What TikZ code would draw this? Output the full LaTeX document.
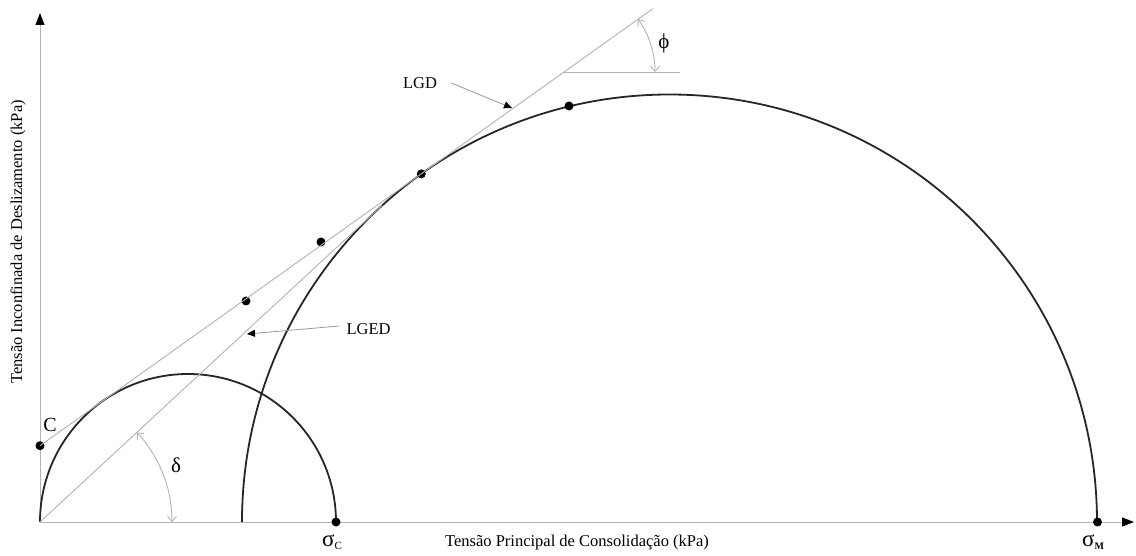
\documentclass[tikz,border=0pt]{standalone}
\usepackage{fontspec}
\setmainfont{Liberation Serif}
\usetikzlibrary{arrows.meta}
\begin{document}
\begin{tikzpicture}[x=1pt,y=1pt,
  axisline/.style={draw=black!30,line width=1pt,-{Triangle[length=12pt,width=9pt,fill=black,color=black]}},
  guide/.style={draw=black!30,line width=0.9pt},
  circ/.style={draw=black!85,line width=1.8pt},
  anglearc/.style={draw=black!30,line width=0.9pt,{Straight Barb[length=5pt,width=9pt]}-{Straight Barb[length=5pt,width=9pt]}},
  pointer/.style={draw=black!40,line width=0.8pt,-{Triangle[length=8pt,width=7pt,fill=black,color=black]}},
  dot/.style={circle,fill=black,inner sep=0pt,minimum size=9pt},
  lbl/.style={font=\fontsize{16.5}{16.5}\selectfont,inner sep=0pt},
  greek/.style={font=\fontsize{21}{21}\selectfont,inner sep=0pt}]
\useasboundingbox (-40,-33) rectangle (1096,522);
% key coordinates
\coordinate (O) at (0,0);
\coordinate (ytop) at (0,509);
\coordinate (xend) at (1094,0);
\coordinate (lgdtop) at (613,513.4);
\coordinate (lgedtop) at (342,316.5);
\coordinate (phic) at (524,450);
\coordinate (phiend) at (640,450);
% axes
\draw[axisline] (O) -- (ytop);
\draw[axisline] (O) -- (xend);
% circles
\draw[circ] (O) arc[start angle=180,end angle=0,radius=148];
\draw[circ] (202,0) arc[start angle=180,end angle=0,radius=427.5];
% dots
\node[dot] (C) at (0,76.3) {};
\node[dot] (p1) at (206,221) {};
\node[dot] (p2) at (281,280) {};
\node[dot] (p3) at (381.3,348.1) {};
\node[dot] (p4) at (529,416) {};
\node[dot] (sC) at (296,0) {};
\node[dot] (sM) at (1057.5,0) {};
% envelope lines
\draw[guide] (C.center) -- (lgdtop);
\draw[guide] (O) -- (lgedtop);
\draw[guide] (phic) -- (phiend);
% angle arcs
\draw[anglearc] (132,0) arc[start angle=0,end angle=42.78,radius=132];
\draw[anglearc] ([shift={(91,0)}]phic) arc[start angle=0,end angle=35.49,radius=91];
% labels
\node[greek] (delta) at (136,57) {δ};
\node[greek] (phi) at (624,479) {ϕ};
\node[font=\fontsize{20}{20}\selectfont,inner sep=0pt] (Clbl) at (10,97) {C};
\node[inner sep=0pt,anchor=west] (sClbl) at (282,-20) {\fontsize{23}{23}\selectfont σ\raisebox{-3pt}{\fontsize{11}{11}\selectfont C}};
\node[inner sep=0pt,anchor=west] (sMlbl) at (1042,-20) {\fontsize{23}{23}\selectfont σ\raisebox{-3pt}{\fontsize{10}{10}\selectfont\bfseries M}};
\node[lbl] (xlbl) at (537,-21) {Tensão Principal de Consolidação (kPa)};
\node[lbl,rotate=90] (ylbl) at (-22,280) {Tensão Inconfinada de Deslizamento (kPa)};
\node[lbl] (lgd) at (380,439) {LGD};
\node[lbl] (lged) at (328.5,193) {LGED};
\coordinate (lgdtip) at (472,414);
\coordinate (lgedtip) at (207,188);
\draw[pointer] (lgd.east) ++(14,0) -- (lgdtip);
\draw[pointer] (lged.west) ++(-7,3) -- (lgedtip);
\end{tikzpicture}
\end{document}
